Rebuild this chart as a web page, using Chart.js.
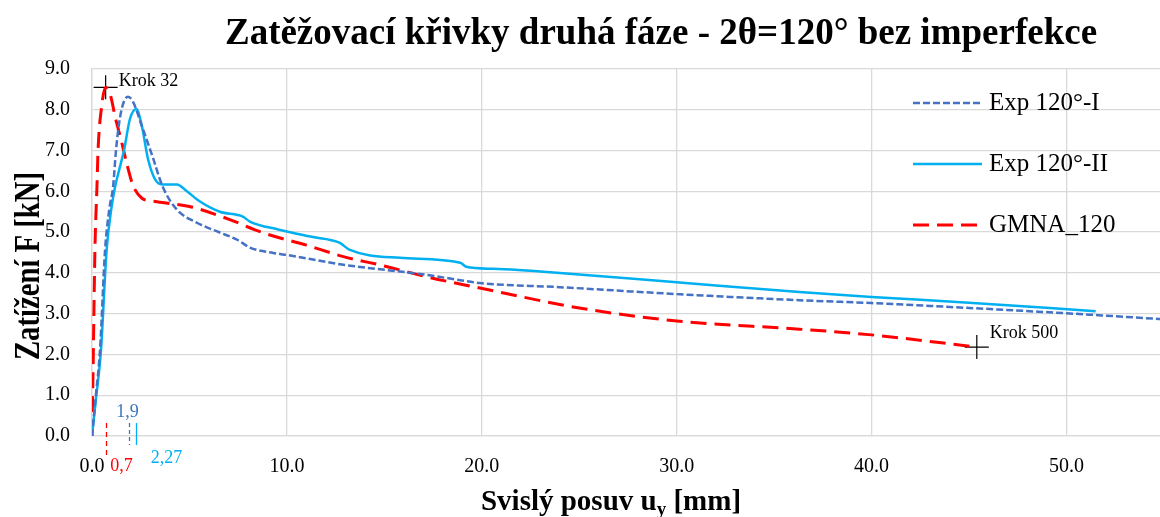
<!DOCTYPE html>
<html>
<head>
<meta charset="utf-8">
<script src="https://cdn.jsdelivr.net/npm/chart.js@4.4.1/dist/chart.umd.min.js"></script>
<style>
  html, body { margin: 0; padding: 0; background: #fff; }
  canvas { display: block; }
</style>
</head>
<body>
<canvas id="chart" width="1160" height="517"></canvas>
<script>
Chart.defaults.font.family = '"Liberation Serif", "Times New Roman", serif';
Chart.defaults.color = '#000';

const titleText = 'Zatěžovací křivky druhá fáze - 2θ=120° bez imperfekce';

// Exp 120°-I
const uExp1 = [0, 0.2, 0.41, 0.67, 0.9, 1.08, 1.23, 1.4, 1.6, 1.85, 2.1, 2.56, 3.1, 3.64, 4.36, 5.38, 6.56, 7.5, 8.1, 9.3, 10.0, 12.9, 17.2, 18.9, 19.9, 24.0, 30.0, 36.3, 40.0, 45.0, 50.0, 54.8, 56.0];
const fExp1 = [0, 1.0, 2.1, 4.56, 5.6, 6.1, 7.0, 7.7, 8.15, 8.32, 8.2, 7.6, 6.86, 6.1, 5.55, 5.23, 4.99, 4.8, 4.62, 4.49, 4.44, 4.2, 3.95, 3.82, 3.75, 3.65, 3.48, 3.33, 3.26, 3.14, 3.01, 2.87, 2.84];

// Exp 120°-II
const uExp2 = [0, 0.2, 0.46, 0.75, 1.0, 1.18, 1.38, 1.64, 1.95, 2.27, 2.56, 2.87, 3.23, 3.6, 4.36, 4.87, 5.54, 6.56, 7.74, 8.1, 9.6, 11.2, 12.7, 13.2, 15.8, 18.9, 19.2, 20.6, 24.0, 30.0, 36.3, 40.0, 45.0, 51.5];
const fExp2 = [0, 0.9, 2.1, 4.56, 5.6, 6.1, 6.5, 7.0, 7.78, 8.02, 7.6, 6.8, 6.3, 6.17, 6.17, 6.0, 5.75, 5.5, 5.38, 5.26, 5.06, 4.89, 4.74, 4.57, 4.37, 4.25, 4.15, 4.1, 4.0, 3.77, 3.53, 3.41, 3.27, 3.06];

// GMNA_120
const uGmna = [0, 0.07, 0.15, 0.26, 0.31, 0.5, 0.7, 0.95, 1.2, 1.5, 1.8, 2.1, 2.56, 3.0, 3.5, 5.0, 7.0, 8.8, 11.0, 12.9, 15.0, 17.2, 19.9, 25.0, 30.0, 36.3, 40.0, 45.4];
const fGmna = [0, 2.1, 4.56, 6.2, 7.0, 8.1, 8.55, 8.35, 7.8, 7.25, 6.65, 6.15, 5.83, 5.77, 5.73, 5.63, 5.32, 4.98, 4.68, 4.4, 4.17, 3.9, 3.63, 3.14, 2.82, 2.62, 2.48, 2.18];

// Krok markers
const krokU = [0.7, 45.4];
const krokF = [8.55, 2.18];
const krokLabels = ['Krok 32', 'Krok 500'];

// peak displacement marks under the x axis
const peakU = [0.7, 1.9, 2.27];
const peakLabels = ['0,7', '1,9', '2,27'];

const xTicks = [0, 10, 20, 30, 40, 50];
const yTicks = [0, 1, 2, 3, 4, 5, 6, 7, 8, 9];

const RED = '#FF0000', BLUE = '#4472C4', CYAN = '#00B0F0';

function pts(us, fs) {
  return us.map((u, i) => ({ x: u, y: fs[i] }));
}

function curve(label, us, fs, color, width, dash) {
  return {
    label: label,
    data: pts(us, fs),
    borderColor: color,
    backgroundColor: color,
    borderWidth: width,
    borderDash: dash,
    showLine: true,
    pointRadius: 0,
    cubicInterpolationMode: 'monotone',
    fill: false
  };
}

const legendItems = [
  { text: 'Exp 120°-I', color: BLUE, width: 2.5, dash: [7, 3] },
  { text: 'Exp 120°-II', color: CYAN, width: 2.5, dash: [] },
  { text: 'GMNA_120', color: RED, width: 3, dash: [16, 8] }
];

const overlay = {
  id: 'overlay',
  afterDraw(chart) {
    const { ctx, scales: { x, y } } = chart;
    const serif = '"Liberation Serif", "Times New Roman", serif';
    ctx.save();
    ctx.fillStyle = '#000';

    // title
    ctx.font = 'bold 37px ' + serif;
    ctx.textAlign = 'center';
    ctx.textBaseline = 'alphabetic';
    ctx.fillText(titleText, 661, 44);

    // y axis title (tall, narrow glyphs as in the original)
    ctx.save();
    ctx.translate(39, 266);
    ctx.rotate(-Math.PI / 2);
    ctx.scale(0.82, 1);
    ctx.font = 'bold 35px ' + serif;
    ctx.fillText('Zatížení F [kN]', 0, 0);
    ctx.restore();

    // x axis title with subscript
    const big = 'bold 29px ' + serif, small = 'bold 19px ' + serif;
    const p1 = 'Svislý posuv u', p2 = 'y', p3 = ' [mm]';
    ctx.font = big; const w1 = ctx.measureText(p1).width, w3 = ctx.measureText(p3).width;
    ctx.font = small; const w2 = ctx.measureText(p2).width;
    let sx = 611 - (w1 + w2 + w3) / 2;
    ctx.textAlign = 'left';
    ctx.font = big; ctx.fillText(p1, sx, 510);
    ctx.font = small; ctx.fillText(p2, sx + w1, 515);
    ctx.font = big; ctx.fillText(p3, sx + w1 + w2, 510);

    // legend
    legendItems.forEach((it, i) => {
      const ly = 103 + i * 61;
      ctx.beginPath();
      ctx.strokeStyle = it.color;
      ctx.lineWidth = it.width;
      ctx.setLineDash(it.dash);
      ctx.moveTo(913, ly);
      ctx.lineTo(982, ly);
      ctx.stroke();
      ctx.setLineDash([]);
      ctx.fillStyle = '#000';
      ctx.font = '25px ' + serif;
      ctx.textBaseline = 'middle';
      ctx.fillText(it.text, 989, ly);
    });

    // Krok labels
    ctx.font = '18px ' + serif;
    ctx.textBaseline = 'middle';
    ctx.textAlign = 'left';
    krokLabels.forEach((t, i) => {
      ctx.fillText(t, x.getPixelForValue(krokU[i]) + 13, y.getPixelForValue(krokF[i]) + (i === 0 ? -6 : -14));
    });

    // peak displacement marks
    const bottom = chart.chartArea.bottom;
    const marks = [
      { color: RED, dash: [5, 4], y0: bottom - 13, y1: bottom + 21, dx: 15, ty: 466 },
      { color: '#3A78C0', dash: [4, 3], y0: bottom - 13, y1: bottom + 9, dx: -2, ty: 412 },
      { color: CYAN, dash: [], y0: bottom - 13, y1: bottom + 9, dx: 30, ty: 458 }
    ];
    peakU.forEach((u, i) => {
      const m = marks[i];
      const px = Math.round(x.getPixelForValue(u)) + 0.5;
      ctx.beginPath();
      ctx.strokeStyle = m.color;
      ctx.lineWidth = 1.3;
      ctx.setLineDash(m.dash);
      ctx.moveTo(px, m.y0);
      ctx.lineTo(px, m.y1);
      ctx.stroke();
      ctx.setLineDash([]);
      ctx.fillStyle = m.color;
      ctx.textAlign = 'center';
      ctx.font = '18px ' + serif;
      ctx.fillText(peakLabels[i], px + m.dx, m.ty);
    });
    ctx.restore();
  }
};

new Chart(document.getElementById('chart'), {
  type: 'scatter',
  data: {
    datasets: [
      curve('Exp 120°-I', uExp1, fExp1, BLUE, 2.5, [7, 3]),
      curve('Exp 120°-II', uExp2, fExp2, CYAN, 2.5, []),
      curve('GMNA_120', uGmna, fGmna, RED, 3, [16, 8]),
      {
        label: 'Krok',
        data: pts(krokU, krokF),
        pointStyle: 'cross',
        pointRadius: 12,
        borderColor: '#000',
        borderWidth: 1.2,
        showLine: false
      }
    ]
  },
  options: {
    responsive: false,
    animation: false,
    layout: { autoPadding: false, padding: { top: 69, right: 0, left: 0, bottom: 0 } },
    plugins: { legend: { display: false }, title: { display: false }, tooltip: { enabled: false } },
    scales: {
      x: {
        type: 'linear',
        min: 0,
        max: 54.8,
        afterFit: s => { s.height = 81; s.paddingLeft = 0; s.paddingRight = 0; },
        afterBuildTicks: s => { s.ticks = xTicks.map(v => ({ value: v })); },
        ticks: { font: { size: 20 }, padding: 19, callback: v => v.toFixed(1), maxRotation: 0 },
        grid: { color: '#D9D9D9', lineWidth: 1.3, drawTicks: false },
        border: { color: '#D9D9D9', width: 1.3 }
      },
      y: {
        min: 0,
        max: 9,
        afterFit: s => { s.width = 92; s.paddingTop = 0; s.paddingBottom = 0; },
        afterBuildTicks: s => { s.ticks = yTicks.map(v => ({ value: v })); },
        ticks: { font: { size: 20 }, padding: 22, callback: v => v.toFixed(1) },
        grid: { color: '#D9D9D9', lineWidth: 1.3, drawTicks: false },
        border: { color: '#D9D9D9', width: 1.3 }
      }
    }
  },
  plugins: [overlay]
});
</script>
</body>
</html>
